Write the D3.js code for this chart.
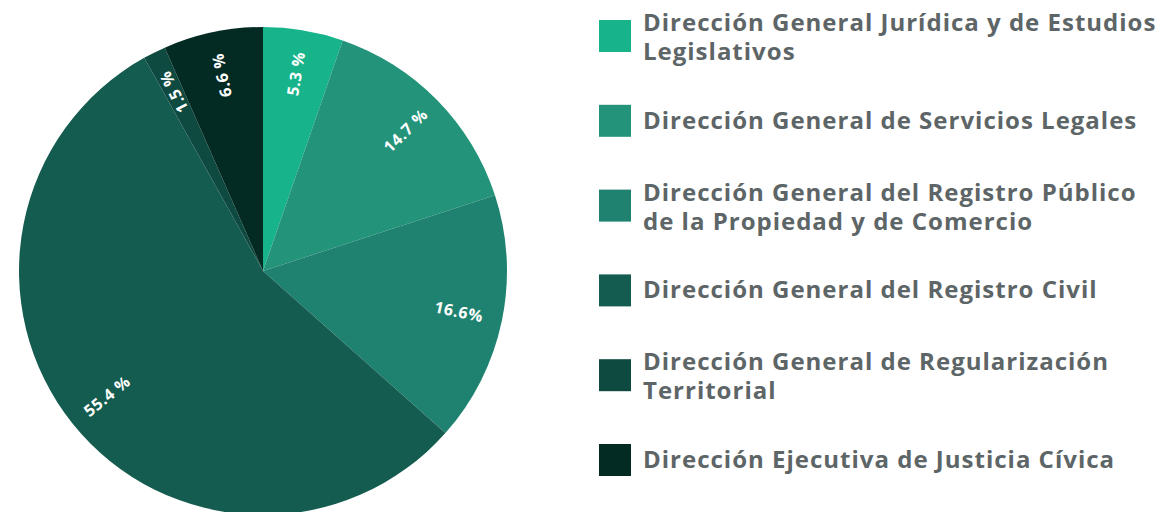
<!DOCTYPE html>
<html>
<head>
<meta charset="utf-8">
<script src="https://cdn.jsdelivr.net/npm/d3@7"></script>
<style>
    body { margin: 0; background: #fff; }
    svg { display: block; }
</style>
</head>
<body>
<svg id="chart" width="1163" height="512"></svg>
<script>
// data, clockwise from 12 o'clock
const categories = [
    ["Dirección General Jurídica y de Estudios", "Legislativos"],
    ["Dirección General de Servicios Legales"],
    ["Dirección General del Registro Público", "de la Propiedad y de Comercio"],
    ["Dirección General del Registro Civil"],
    ["Dirección General de Regularización", "Territorial"],
    ["Dirección Ejecutiva de Justicia Cívica"]
];
const values = [5.3, 14.7, 16.6, 55.4, 1.5, 6.6];
const valueLabels = ["5.3 %", "14.7 %", "16.6%", "55.4 %", "1.5 %", "6.6 %"];
const colors = ["#17b48c", "#23937a", "#1f8270", "#145c4f", "#0f4a40", "#032a23"];

let svg = d3.select("#chart");
let cx = 263, cy = 271, radius = 244;

let pie = d3.pie().sort(null).value(d => d)(values);
let arc = d3.arc().innerRadius(0).outerRadius(radius);
let labelArc = d3.arc().innerRadius(200).outerRadius(200);

let g = svg.append("g").attr("transform", `translate(${cx},${cy})`);

g.selectAll("path")
    .data(pie)
    .enter()
    .append("path")
    .attr("d", arc)
    .attr("fill", (d, i) => colors[i]);

g.selectAll("text")
    .data(pie)
    .enter()
    .append("text")
    .attr("transform", d => {
        let [x, y] = labelArc.centroid(d);
        let mid = (d.startAngle + d.endAngle) / 2 * 180 / Math.PI;
        let rot = mid - 90;
        if (mid > 180 && mid < 300) rot -= 180; // keep bottom-left labels readable
        return `translate(${x},${y}) rotate(${rot})`;
    })
    .attr("text-anchor", "middle")
    .attr("dy", "0.35em")
    .attr("fill", "#fff")
    .attr("font-family", "'Open Sans', sans-serif")
    .attr("font-weight", 700)
    .attr("font-size", "16px")
    .attr("letter-spacing", "0.6px")
    .text((d, i) => valueLabels[i]);

// legend
let legendY = d3.scalePoint().domain(d3.range(categories.length)).range([36, 460]);
let legend = svg.append("g");

categories.forEach((lines, i) => {
    let yc = legendY(i);
    legend.append("rect")
        .attr("x", 599).attr("y", yc - 16)
        .attr("width", 32).attr("height", 32)
        .attr("fill", colors[i]);

    let first = lines.length > 1 ? yc - 5 : yc + 8;
    let t = legend.append("text")
        .attr("x", 643)
        .attr("fill", "#5d6567")
        .attr("font-family", "'Open Sans', sans-serif")
        .attr("font-weight", 700)
        .attr("font-size", "24px")
        .attr("letter-spacing", "1px");
    lines.forEach((line, j) => {
        t.append("tspan")
            .attr("x", 643)
            .attr("y", first + j * 29)
            .text(line);
    });
});
</script>
</body>
</html>
